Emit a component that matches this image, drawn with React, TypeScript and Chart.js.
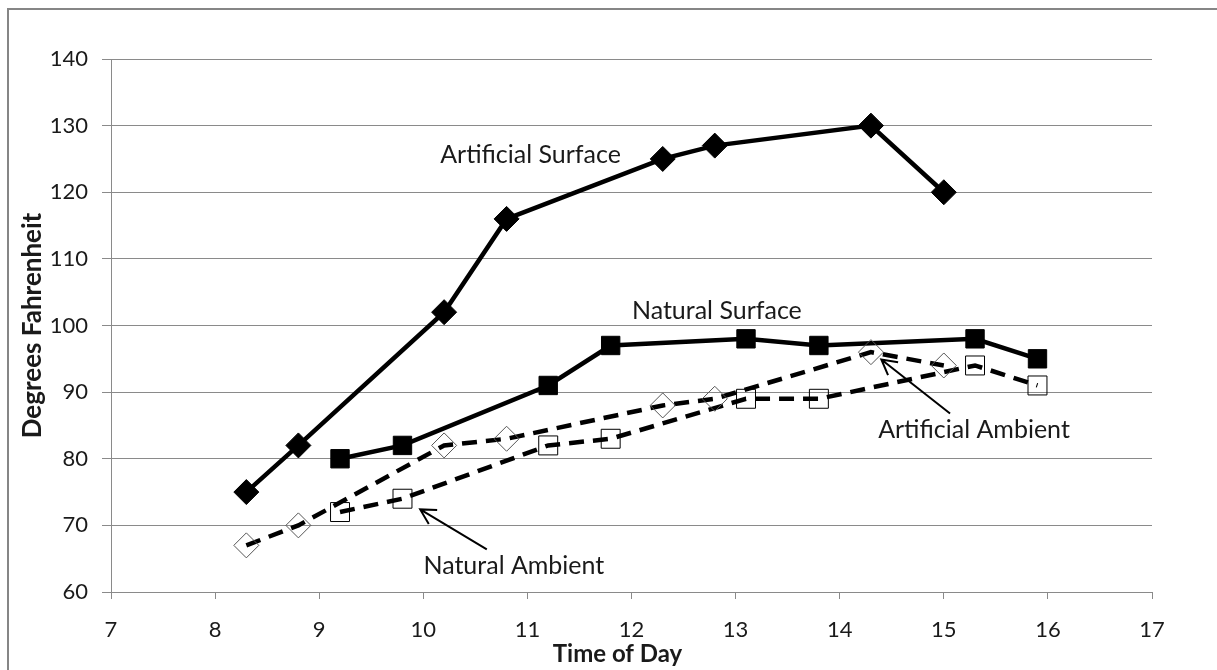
import React, { useEffect, useRef } from 'react';
import { Chart, registerables } from 'chart.js';

Chart.register(...registerables);

// ---- data ----
const artSurfX = [8.3, 8.8, 10.2, 10.8, 12.3, 12.8, 14.3, 15.0];
const artSurfY = [75, 82, 102, 116, 125, 127, 130, 120];
const natSurfX = [9.2, 9.8, 11.2, 11.8, 13.1, 13.8, 15.3, 15.9];
const natSurfY = [80, 82, 91, 97, 98, 97, 98, 95];
const artAmbX = [8.3, 8.8, 10.2, 10.8, 12.3, 12.8, 14.3, 15.0];
const artAmbY = [67, 70, 82, 83, 88, 89, 96, 94];
const natAmbX = [9.2, 9.8, 11.2, 11.8, 13.1, 13.8, 15.3, 15.9];
const natAmbY = [72, 74, 82, 83, 89, 89, 94, 91];

const xTicksMin = 7;
const xTicksMax = 17;
const yTicksMin = 60;
const yTicksMax = 140;

const seriesNames = ['Artificial Surface', 'Natural Surface', 'Artificial Ambient', 'Natural Ambient'];

const FONT = 'Lato, "Liberation Sans", sans-serif';
const GRID = '#8a8a8a';
const TEXT = '#1a1a1a';

const textLabels = [
  { text: 'Artificial Surface', x: 11.03, y: 125.6 },
  { text: 'Natural Surface', x: 12.82, y: 102.2 },
  { text: 'Artificial Ambient', x: 15.29, y: 84.3 },
  { text: 'Natural Ambient', x: 10.87, y: 63.9 },
];
const arrows = [
  { from: [15.06, 86.8], to: [14.4, 94.9] },
  { from: [10.61, 66.4], to: [9.97, 72.4] },
];

const zip = (xs: number[], ys: number[]) => xs.map((x, i) => ({ x, y: ys[i] }));

const annotPlugin = {
  id: 'annot',
  afterDatasetsDraw(chart: any) {
    const { ctx, chartArea } = chart;
    const xs = chart.scales.x;
    const ys = chart.scales.y;
    ctx.save();
    ctx.fillStyle = TEXT;
    ctx.font = `25px ${FONT}`;
    ctx.textAlign = 'center';
    ctx.textBaseline = 'middle';
    textLabels.forEach((l) => {
      ctx.fillText(l.text, xs.getPixelForValue(l.x), ys.getPixelForValue(l.y));
    });
    ctx.strokeStyle = '#000';
    ctx.lineWidth = 2;
    arrows.forEach((a) => {
      const x1 = xs.getPixelForValue(a.from[0]);
      const y1 = ys.getPixelForValue(a.from[1]);
      const x2 = xs.getPixelForValue(a.to[0]);
      const y2 = ys.getPixelForValue(a.to[1]);
      const ang = Math.atan2(y2 - y1, x2 - x1);
      const L = 17;
      const sp = 0.5;
      ctx.beginPath();
      ctx.moveTo(x1, y1);
      ctx.lineTo(x2, y2);
      ctx.moveTo(x2 - L * Math.cos(ang - sp), y2 - L * Math.sin(ang - sp));
      ctx.lineTo(x2, y2);
      ctx.lineTo(x2 - L * Math.cos(ang + sp), y2 - L * Math.sin(ang + sp));
      ctx.stroke();
    });
    ctx.font = `bold 24px ${FONT}`;
    ctx.fillText('Time of Day', (chartArea.left + chartArea.right) / 2 - 14, chart.height - 16);
    ctx.font = `bold 26px ${FONT}`;
    ctx.translate(33, (chartArea.top + chartArea.bottom) / 2);
    ctx.rotate(-Math.PI / 2);
    ctx.fillText('Degrees Fahrenheit', 0, 0);
    ctx.restore();
  },
};

export default function App() {
  const ref = useRef<HTMLCanvasElement | null>(null);
  useEffect(() => {
    if (!ref.current) return;
    const chart = new Chart(ref.current, {
      type: 'line',
      data: {
        datasets: [
          {
            label: seriesNames[2],
            data: zip(artAmbX, artAmbY),
            borderColor: '#000',
            borderWidth: 4.5,
            borderDash: [15, 9],
            pointStyle: 'rectRot',
            pointRadius: 12.5,
            pointBorderWidth: 1,
            pointBorderColor: '#555',
            pointBackgroundColor: 'rgba(255,255,255,0)',
            tension: 0,
          },
          {
            label: seriesNames[3],
            data: zip(natAmbX, natAmbY),
            borderColor: '#000',
            borderWidth: 4.5,
            borderDash: [15, 9],
            pointStyle: 'rect',
            pointRadius: 13.4,
            pointBorderWidth: 1,
            pointBorderColor: '#000',
            pointBackgroundColor: 'rgba(255,255,255,0)',
            tension: 0,
          },
          {
            label: seriesNames[0],
            data: zip(artSurfX, artSurfY),
            borderColor: '#000',
            borderWidth: 4.5,
            pointStyle: 'rectRot',
            pointRadius: 12.5,
            pointBorderWidth: 1,
            pointBorderColor: '#000',
            pointBackgroundColor: '#000',
            tension: 0,
          },
          {
            label: seriesNames[1],
            data: zip(natSurfX, natSurfY),
            borderColor: '#000',
            borderWidth: 4.5,
            pointStyle: 'rect',
            pointRadius: 13,
            pointBorderWidth: 1,
            pointBorderColor: '#000',
            pointBackgroundColor: '#000',
            tension: 0,
          },
        ],
      },
      options: {
        responsive: false,
        animation: false,
        events: [],
        layout: { padding: { left: 0, top: 59, right: 65, bottom: 0 } },
        plugins: { legend: { display: false }, tooltip: { enabled: false } },
        scales: {
          x: {
            type: 'linear',
            min: xTicksMin,
            max: xTicksMax,
            ticks: { stepSize: 1, font: { family: FONT, size: 22 }, color: TEXT, padding: 18, autoSkip: false, maxRotation: 0 },
            grid: { drawOnChartArea: false, tickLength: 7, color: GRID, lineWidth: 1 },
            border: { color: GRID, width: 1 },
            afterFit: (s: any) => { s.height = 78; },
          },
          y: {
            type: 'linear',
            min: yTicksMin,
            max: yTicksMax,
            ticks: { stepSize: 10, font: { family: FONT, size: 22 }, color: TEXT, padding: 14 },
            grid: { color: GRID, lineWidth: 1, tickLength: 9 },
            border: { color: GRID, width: 1 },
            afterFit: (s: any) => { s.width = 111; },
          },
        },
      },
      plugins: [annotPlugin],
    } as any);
    return () => chart.destroy();
  }, []);
  return (
    <div style={{ position: 'absolute', left: 0, top: 0, width: 1217, height: 670, background: '#fff', overflow: 'hidden' }}>
      <div style={{ position: 'absolute', left: 7, top: 8, width: 1300, height: 800, borderLeft: '2px solid #868686', borderTop: '2px solid #868686' }} />
      <canvas ref={ref} width={1217} height={670} style={{ position: 'absolute', left: 0, top: 0, display: 'block' }} />
    </div>
  );
}
